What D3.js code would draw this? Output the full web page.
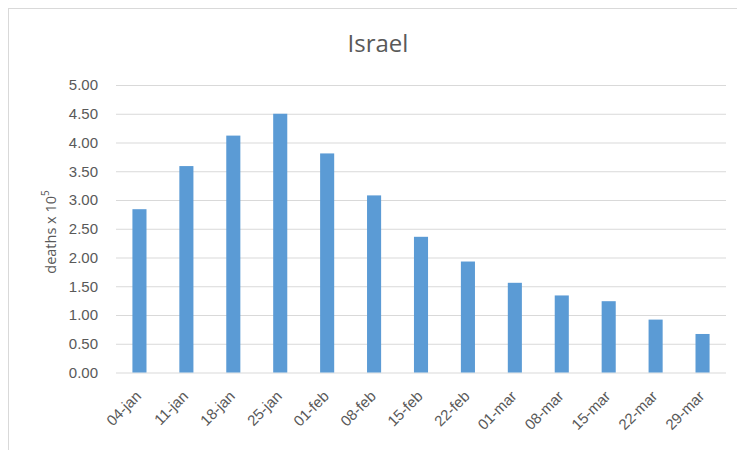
<!DOCTYPE html>
<html>
<head>
<meta charset="utf-8">
<script src="https://cdn.jsdelivr.net/npm/d3@7"></script>
<style>
  html, body { margin: 0; padding: 0; background: #fff; }
  svg { display: block; font-family: "Open Sans", "Noto Sans", sans-serif; }
</style>
</head>
<body>
<svg id="chart" width="737" height="450"></svg>
<script>
// Weekly deaths per 100,000 in Israel
const weeks = ["04-jan", "11-jan", "18-jan", "25-jan", "01-feb", "08-feb", "15-feb",
               "22-feb", "01-mar", "08-mar", "15-mar", "22-mar", "29-mar"];
const deaths = [2.84, 3.59, 4.12, 4.50, 3.81, 3.08, 2.36, 1.93, 1.56, 1.34, 1.24, 0.92, 0.67];
const yTicks = [0, 0.5, 1, 1.5, 2, 2.5, 3, 3.5, 4, 4.5, 5];
const title = "Israel";

const svg = d3.select("#chart");
const W = 737, H = 450;
const plot = { left: 116, right: 726, top: 85, bottom: 372.5 };
const textColor = "#595959";
const gridColor = "#d9d9d9";
const barColor = "#5b9bd5";

// chart area frame
svg.append("rect")
  .attr("x", 8.5).attr("y", 8.5)
  .attr("width", W - 8).attr("height", H - 8)
  .attr("fill", "#fff").attr("stroke", gridColor).attr("stroke-width", 1);

const x = d3.scaleBand().domain(weeks).range([plot.left, plot.right]).paddingInner(0.7).paddingOuter(0.35);
const y = d3.scaleLinear().domain([0, 5]).range([plot.bottom, plot.top]);

// horizontal gridlines and y tick labels
const yAxis = d3.axisLeft(y).tickValues(yTicks).tickFormat(d3.format(".2f"))
  .tickSize(-(plot.right - plot.left)).tickPadding(18);
const gy = svg.append("g").attr("transform", `translate(${plot.left},0)`).call(yAxis);
gy.select(".domain").remove();
gy.selectAll(".tick line").attr("stroke", gridColor).attr("stroke-width", 1);
gy.selectAll(".tick text").attr("fill", textColor).attr("font-size", 15);

// bars
svg.append("g").selectAll("rect").data(deaths).join("rect")
  .attr("x", (d, i) => x(weeks[i]))
  .attr("width", x.bandwidth())
  .attr("y", d => y(d))
  .attr("height", d => y(0) - y(d))
  .attr("fill", barColor);

// category labels, rotated
const xAxis = d3.axisBottom(x).tickSize(0).tickPadding(0);
const gx = svg.append("g").attr("transform", `translate(0,${plot.bottom})`).call(xAxis);
gx.select(".domain").remove();
gx.selectAll(".tick text")
  .attr("fill", textColor).attr("font-size", 15)
  .attr("text-anchor", "end")
  .attr("transform", "translate(-1,21) rotate(-45)")
  .attr("dy", "0.35em").attr("y", 0).attr("x", 0);

// title
svg.append("text")
  .attr("x", 378).attr("y", 52)
  .attr("text-anchor", "middle")
  .attr("fill", textColor).attr("font-size", 24)
  .text(title);

// y axis title with superscript
const yl = svg.append("text")
  .attr("transform", "translate(56,232) rotate(-90)")
  .attr("text-anchor", "middle")
  .attr("fill", textColor).attr("font-size", 14.5);
yl.append("tspan").text("deaths x 10");
yl.append("tspan").attr("baseline-shift", "super").attr("font-size", 10).text("5");
</script>
</body>
</html>
